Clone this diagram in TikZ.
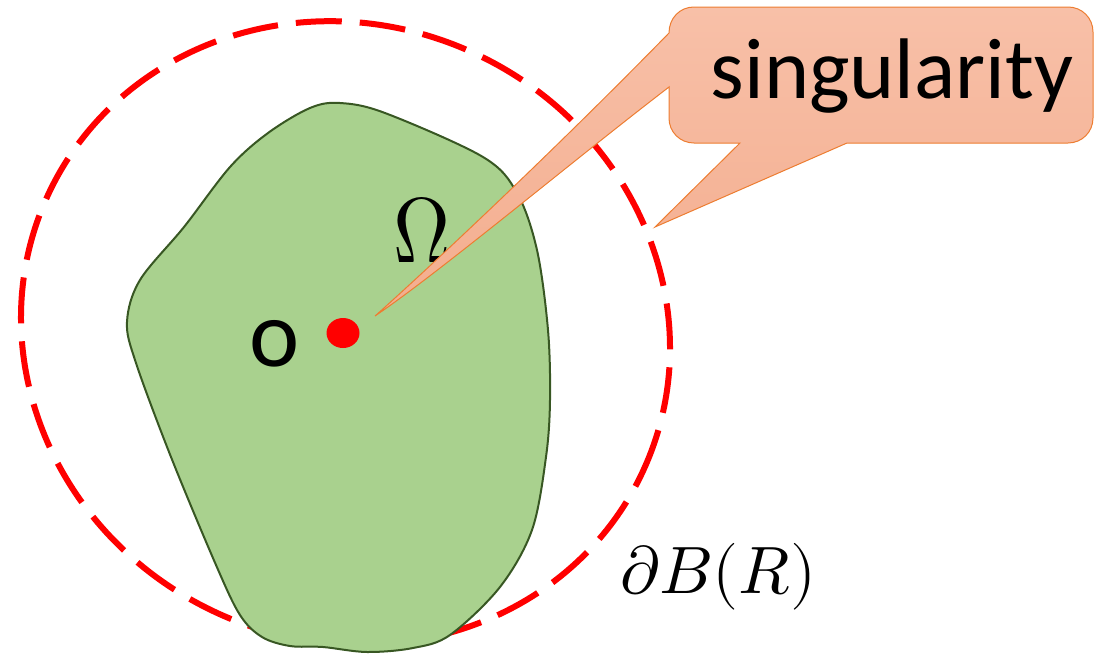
\documentclass[tikz,border=0pt]{standalone}
\usepackage{fontspec}
\usepackage{unicode-math}
\setmathfont{Latin Modern Math}
\newfontfamily\carl{Carlito}
\definecolor{blobfill}{RGB}{169,209,142}
\definecolor{blobline}{RGB}{56,87,35}
\definecolor{calltop}{RGB}{248,192,168}
\definecolor{callbot}{RGB}{243,173,142}
\definecolor{callline}{RGB}{237,125,49}
\definecolor{ringred}{RGB}{255,0,0}
\tikzset{
  ring/.style={draw=ringred, line width=6pt, dash pattern=on 46pt off 18pt},
  blob/.style={fill=blobfill, draw=blobline, line width=2pt},
  callout/.style={top color=calltop, bottom color=callbot, draw=callline, line width=1pt},
  lbl/.style={inner sep=0pt, outer sep=0pt}
}
\begin{document}
\begin{tikzpicture}[x=1pt,y=-1pt]
\useasboundingbox (0,0) rectangle (1101,656);
% dashed ring B(R)
\draw[ring, rotate around={-25.3:(345.5,333)}] (345.5,333) ellipse [x radius=328pt, y radius=308pt];
% domain Omega
\path[blob] plot[smooth cycle, tension=0.55] coordinates {
 (340,103) (385,113) (483,157) (517,193) (537,250) (548,330) (550,400)
 (546,457) (532,530) (500,587) (450,635) (413,648) (367,652) (323,647)
 (290,646) (262,637) (240,615) (216,565) (171,457) (136,363) (127,322)
 (140,280) (184,227) (230,167) (268,133) (310,108)};
% singular point
\fill[ringred] (343,333) ellipse [x radius=16.5pt, y radius=15pt];
\node[lbl, anchor=base] (o) at (275,366) {\fontsize{95}{100}\selectfont\carl o};
\node[lbl, anchor=south west] (omega) at (393,262) {\resizebox{57pt}{65pt}{$\Omega$}};
\node[lbl, anchor=base west] (dB) at (620,593) {\fontsize{67}{70}\selectfont$\partial B(R)$};
% callout
\path[callout] (694,7) -- (1068,7) .. controls (1082,7) and (1093,18) .. (1093,32)
  -- (1093,118) .. controls (1093,132) and (1082,143) .. (1068,143)
  -- (847,143) -- (655,227) -- (740,143) -- (694,143)
  .. controls (680,143) and (669,132) .. (669,118) -- (669,87)
  .. controls (570,163) and (440,272) .. (375,316)
  .. controls (410,285) and (540,165) .. (669,33)
  .. controls (669,18) and (680,7) .. (694,7) -- cycle;
\node[lbl, anchor=base] (sing) at (892,98) {\fontsize{86}{90}\selectfont\carl singularity};
\end{tikzpicture}
\end{document}
